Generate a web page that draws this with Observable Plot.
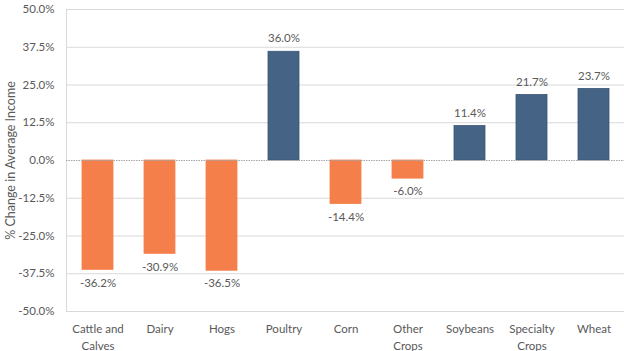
<!DOCTYPE html>
<html><head><meta charset="utf-8">
<script src="https://cdn.jsdelivr.net/npm/d3@7"></script>
<script src="https://cdn.jsdelivr.net/npm/@observablehq/plot@0.6"></script>
<style>body{margin:0;background:#fff}svg{display:block}</style>
</head><body><div id="chart"></div>
<script>
const categories = ["Cattle and\nCalves","Dairy","Hogs","Poultry","Corn","Other\nCrops","Soybeans","Specialty\nCrops","Wheat"];
const values = [-36.2,-30.9,-36.5,36.0,-14.4,-6.0,11.4,21.7,23.7];
const yTicks = [-50,-37.5,-25,-12.5,0,12.5,25,37.5,50];
const yLabel = "% Change in Average Income";
const data = categories.map((c,i)=>({cat:c, v:values[i]}));
const font = "Lato, 'Open Sans', sans-serif";
const chart = Plot.plot({
  width:624, height:351,
  marginLeft:66, marginRight:0, marginTop:9, marginBottom:40,
  style:{fontFamily:font, fontSize:"11.5px", color:"#595959", background:"#fff"},
  x:{domain:categories, paddingInner:0.5, paddingOuter:0.25},
  y:{domain:[-50,50]},
  marks:[
    Plot.gridY(yTicks.filter(d=>d!==0), {stroke:"#d9d9d9", strokeOpacity:1}),
    Plot.frame({anchor:"left", stroke:"#d9d9d9"}),
    Plot.axisX({tickSize:0, tickPadding:10, label:null, lineHeight:1.45, fill:"#595959"}),
    Plot.axisY({ticks:yTicks, tickFormat:d=>d.toFixed(1)+"%", tickSize:0, tickPadding:12, fill:"#595959", label:null}),
    Plot.text([yLabel], {frameAnchor:"left", textAnchor:"middle", rotate:-90, dx:-56, fontSize:12.5, fill:"#595959"}),
    Plot.barY(data, {x:"cat", y:"v", fill:d=>d.v<0?"#F47F4A":"#456384", stroke:d=>d.v<0?"#F47F4A":"#3b5675", strokeWidth:0.8}),
    Plot.ruleY([0], {stroke:"#a6a6a6", strokeDasharray:"1.5,1"}),
    Plot.text(data.filter(d=>d.v>=0), {x:"cat", y:"v", text:d=>d.v.toFixed(1)+"%", dy:-13, fill:"#595959", fontSize:11.5}),
    Plot.text(data.filter(d=>d.v<0), {x:"cat", y:"v", text:d=>d.v.toFixed(1)+"%", dy:13, fill:"#595959", fontSize:11.5})
  ]
});
document.getElementById("chart").appendChild(chart);
</script></body></html>
